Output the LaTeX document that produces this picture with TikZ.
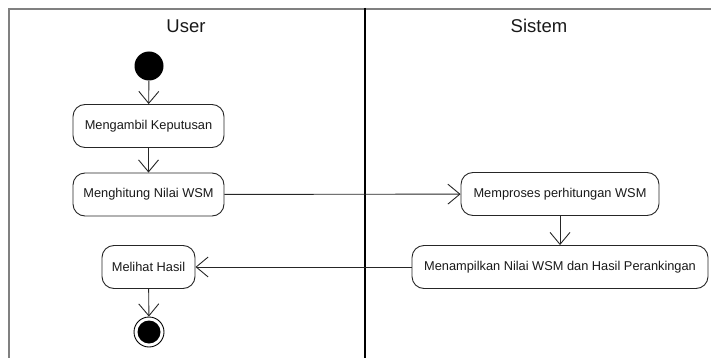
\documentclass[tikz,border=0pt]{standalone}
\usepackage{fontspec}
\setmainfont{Liberation Sans}
\usetikzlibrary{arrows.meta}
\begin{document}
\begin{tikzpicture}[x=1pt,y=-1pt,
  activity/.style={draw=black!85,line width=0.9pt,rounded corners=12pt,
    minimum height=43pt,inner sep=0pt,align=center,
    font=\fontsize{12.8}{14}\selectfont,text=black!90},
  flow/.style={draw=black!85,line width=0.9pt,
    -{Straight Barb[length=12pt,width=20pt,line width=0.9pt]}},
  lanetitle/.style={font=\fontsize{18.5}{20}\selectfont,text=black!90}]
  \useasboundingbox (0,0) rectangle (711,358);
  % swimlane frame and divider
  \draw[line width=2pt,draw=black!50] (9,362) -- (9,9) -- (715,9);
  \draw[line width=2pt,draw=black] (365,8) -- (365,362);
  \node[lanetitle] (user) at (186,26) {User};
  \node[lanetitle] (sistem) at (539,26) {Sistem};
  % user lane
  \node[circle,fill=black,minimum size=29pt,inner sep=0pt] (start) at (149,66) {};
  \node[activity,minimum width=151pt] (ambil) at (148.5,126) {Mengambil Keputusan};
  \node[activity,minimum width=151pt] (hitung) at (148.5,194.5) {Menghitung Nilai WSM};
  \node[activity,minimum width=93pt] (lihat) at (148.5,267) {Melihat Hasil};
  \node[circle,draw=black,line width=0.9pt,minimum size=30pt,inner sep=0pt] (stop) at (149,332) {};
  \node[circle,fill=black,minimum size=23pt,inner sep=0pt] at (stop) {};
  % system lane
  \node[activity,minimum width=198pt] (proses) at (560,194) {Memproses perhitungan WSM};
  \node[activity,minimum width=296pt] (tampil) at (560,267) {Menampilkan Nilai WSM dan Hasil Perankingan};
  % control flow
  \draw[flow] (start) -- (ambil);
  \draw[flow] (ambil) -- (hitung);
  \draw[flow] (hitung) -- (proses);
  \draw[flow] (proses) -- (tampil);
  \draw[flow] (tampil) -- (lihat);
  \draw[flow] (lihat) -- (stop);
\end{tikzpicture}
\end{document}
